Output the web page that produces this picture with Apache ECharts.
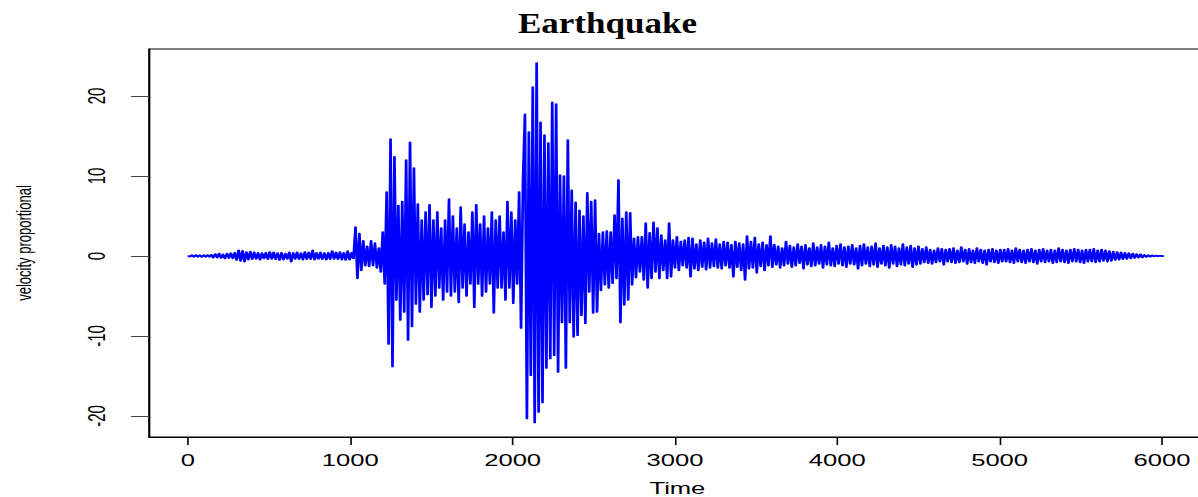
<!DOCTYPE html>
<html>
<head>
<meta charset="utf-8">
<script src="https://cdn.jsdelivr.net/npm/echarts@6/dist/echarts.min.js"></script>
<style>
  html, body { margin: 0; padding: 0; background: #fff; }
  body { width: 1198px; height: 497px; overflow: hidden; }
  #chart { width: 749px; height: 497px; transform: scaleX(1.599466); transform-origin: 0 0; }
</style>
</head>
<body>
<div id="chart"></div>
<script>
// ---- data ----
const timeStep = 12;               // sampling step of the values below (time units)
const xTicks = [0, 1000, 2000, 3000, 4000, 5000, 6000];
const yTicks = [-20, -10, 0, 10, 20];

// t = 0 .. 1020 : quiet pre-event noise
const quiet = [
  0.05,-0.08,0.1,-0.1,0.12,-0.1,0.1,-0.12,0.1,-0.1,0.12,-0.1,0.15,
  -0.2,0.25,-0.2,0.3,-0.25,0.2,-0.3,0.3,-0.25,0.35,-0.3,0.4,
  -0.5,0.7,-0.6,0.65,-0.7,0.5,-0.45,0.55,
  -0.4,0.45,-0.35,0.4,-0.45,0.35,-0.3,0.4,-0.4,0.5,
  -0.35,0.45,-0.4,0.35,-0.5,0.4,-0.45,0.3,-0.35,0.45,
  -0.7,0.4,-0.35,0.45,-0.4,0.35,-0.45,0.5,-0.4,0.45,
  -0.4,0.7,-0.45,0.4,-0.35,0.45,-0.4,0.35,-0.45,0.4,
  -0.4,0.6,-0.35,0.45,-0.4,0.5,-0.45,0.4,-0.5,0.6,-0.45,0.4,-0.3
];
// t = 1032 .. 1476 : P-wave arrival
const pWave = [
  3.6,-2.8,2.8,-1.8,1.9,-1.2,1.2,-1.3,1.9,-1.2,
  1.6,-1.5,1.0,-2.0,3.0,-3.5,8.0,-11.0,14.6,-13.8,
  12.4,-5.5,6.3,-8.0,6.8,-7.0,12.0,-10.5,14.2,-8.8,
  11.0,-6.0,6.5,-7.0,4.5,-5.5,5.5,-4.8
];
// t = 1488 .. 2028 : P coda
const pCoda = [
  6.4,-6.4,4.5,-5.0,5.5,-4.0,3.5,-5.5,4.5,-4.5,
  7.1,-5.0,5.0,-4.5,3.5,-5.8,6.1,-4.0,4.0,-5.0,
  3.0,-3.5,5.5,-6.4,6.4,-3.5,4.0,-5.0,5.0,-4.5,
  3.5,-3.5,5.5,-7.1,4.5,-4.0,5.0,-4.0,3.0,-5.5,
  6.8,-4.0,5.5,-5.9,4.5,-3.5
];
// t = 2040 .. 2400 : S-wave main burst
const sWave = [
  8.0,-9.0,9.5,17.7,-20.3,15.5,-14.9,21.1,-20.8,24.1,
  -19.5,16.7,-18.3,15.1,-14.0,14.1,-12.8,19.2,-12.4,19.0,
  -14.5,10.1,-8.3,10.0,-14.0,14.5,-8.3,8.2,-10.1,6.7,
  -9.9
];
// t = 2412 .. 2784 : S coda
const sCoda = [
  5.7,-7.4,5.0,-8.4,7.9,-4.5,6.8,-7.1,7.0,-7.0,
  2.8,-4.3,3.0,-3.6,3.1,-4.0,3.0,-3.4,5.1,-2.8,
  9.5,-8.3,4.7,-6.1,5.5,-5.5,5.4,-3.6,2.2,-2.7,
  2.4,-2.0
];
// t = 2796 .. 3600 : surface waves
const surface = [
  2.4,-3.0,4.1,-4.0,2.9,-2.8,4.2,-2.0,3.5,-2.8,
  2.6,-1.8,2.0,-2.8,4.1,-2.6,2.0,-1.5,2.4,-1.8,
  1.8,-1.2,2.0,-1.5,2.3,-2.6,2.2,-1.6,1.5,-1.8,
  2.0,-1.4,1.7,-1.7,2.2,-1.5,1.6,-1.3,2.1,-1.5,
  1.5,-1.6,1.8,-1.2,1.7,-1.5,1.4,-2.6,1.8,-1.4,
  1.6,-1.8,1.5,-3.0,2.5,-1.6,1.8,-1.5,2.3,-2.1,
  1.5,-1.3,1.7,-1.8,1.4,-1.2,2.5,-1.4
];
// t = 3612 .. 4500 : late coda
const lateCoda = [
  1.4,-1.1,1.2,-1.5,1.0,-1.2,1.8,-1.0,1.3,-1.4,
  1.1,-1.2,1.5,-0.9,1.2,-1.6,1.4,-1.1,1.0,-1.3,
  1.6,-1.2,1.1,-1.0,1.4,-1.5,1.2,-1.1,1.7,-1.2,
  1.0,-1.3,1.3,-1.0,1.5,-1.2,1.1,-1.4,1.2,-1.0,
  1.4,-1.1,1.0,-1.6,1.3,-1.2,1.5,-1.0,1.1,-1.3,
  1.2,-1.1,1.6,-1.4,1.0,-1.0,1.3,-1.2,1.1,-1.5,
  1.4,-1.0,1.2,-1.3,1.0,-1.1,1.5,-1.2,1.1,-1.0,
  1.3,-1.4,1.0,-1.1,1.2
];
// t = 4512 .. 5016
const decay1 = [
  -1.0,0.9,-0.8,1.1,-0.9,0.8,-1.0,0.7,-0.8,1.0,
  -0.7,0.9,-1.1,0.8,-0.7,0.9,-0.8,1.0,-0.9,0.7,
  -0.8,1.1,-0.7,0.8,-1.0,0.9,-0.8,0.7,-0.9,1.0,
  -0.7,0.8,-0.9,0.7,-1.1,0.8,-0.7,0.9,-0.8,0.7,
  -0.9,0.8,-0.7
];
// t = 5028 .. 5676
const decay2 = [
  0.8,-0.7,0.9,-0.8,0.7,-0.9,1.0,-0.7,0.8,-0.8,
  0.7,-0.9,0.8,-0.7,0.9,-0.8,0.7,-1.0,0.8,-0.7,
  0.9,-0.8,0.7,-0.7,0.8,-0.9,0.7,-0.8,1.0,-0.7,
  0.8,-0.8,0.7,-0.9,0.8,-0.7,0.9,-0.7,0.8,-0.8,
  0.7,-0.9,0.8,-0.7,0.8,-0.7,0.9,-0.8,0.7,-0.7,
  0.8,-0.6,0.7,-0.7,0.6
];
// t = 5688 .. 6012 : tail
const tail = [
  -0.6,0.55,-0.5,0.5,-0.45,0.45,-0.4,0.4,-0.35,0.35,
  -0.3,0.3,-0.25,0.25,-0.2,0.2,-0.18,0.15,-0.12,0.1,
  -0.08,0.08,-0.06,0.05,-0.04,0.03,-0.02,0.01
];

const velocity = [].concat(quiet, pWave, pCoda, sWave, sCoda, surface, lateCoda, decay1, decay2, tail);
const seriesData = velocity.map((v, i) => [i * timeStep, v]);

// ---- chart ----
const W = 749, H = 497;
const chart = echarts.init(document.getElementById('chart'), null, { renderer: 'svg', width: W, height: H });
const sans = '"Liberation Sans", Arial, sans-serif';

chart.setOption({
  animation: false,
  backgroundColor: '#ffffff',
  graphic: [{
    type: 'text',
    x: 379.8, y: 8,
    scaleX: 0.73,
    style: {
      text: 'Earthquake',
      fill: '#000',
      fontSize: 30, fontWeight: 'bold', fontFamily: '"Liberation Serif", serif',
      align: 'center', verticalAlign: 'top'
    }
  }],
  grid: {
    left: 93.16, top: 49, width: 660.7, height: 388,
    outerBoundsMode: 'none', containLabel: false,
    show: true, borderColor: '#000', borderWidth: 1, backgroundColor: 'transparent'
  },
  xAxis: {
    type: 'value', min: -240, max: 6270,
    name: 'Time', nameLocation: 'middle', nameGap: 44,
    nameTextStyle: { color: '#000', fontSize: 16, fontFamily: sans },
    axisLine: { show: true, onZero: false, lineStyle: { color: '#000', width: 1 } },
    axisTick: { show: true, length: 8, customValues: xTicks, lineStyle: { color: '#000', width: 1 } },
    axisLabel: { customValues: xTicks, formatter: v => String(v), margin: 16, color: '#000', fontSize: 16, fontFamily: sans },
    splitLine: { show: false }
  },
  yAxis: {
    type: 'value', min: -22.625, max: 25.875,
    name: 'velocity proportional', nameLocation: 'middle', nameGap: 72, nameRotate: 90,
    nameTextStyle: { color: '#000', fontSize: 13, fontFamily: sans },
    axisLine: { show: true, onZero: false, lineStyle: { color: '#000', width: 1 } },
    axisTick: { show: true, length: 11.3, customValues: yTicks, lineStyle: { color: '#444', width: 1 } },
    axisLabel: { customValues: yTicks, formatter: v => String(v), rotate: 90, margin: 25, color: '#000', fontSize: 15, fontFamily: sans },
    splitLine: { show: false }
  },
  series: [{
    type: 'line',
    data: seriesData,
    showSymbol: false,
    symbol: 'none',
    sampling: 'none',
    lineStyle: { color: '#0000ff', width: 1.7, join: 'round', cap: 'butt' },
    clip: true
  }]
});
</script>
</body>
</html>
